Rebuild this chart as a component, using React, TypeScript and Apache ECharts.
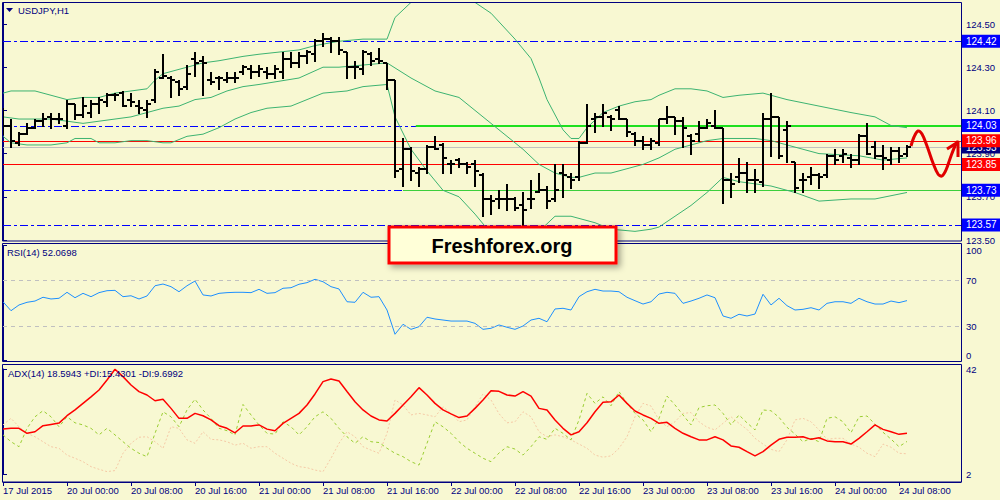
import { useEffect, useRef } from 'react';
import * as echarts from 'echarts';

// ---------- tick labels ----------
const tickBars = [0, 8, 16, 24, 32, 40, 48, 56, 64, 72, 80, 88, 96, 104, 112];
const tickLabels = [
  '17 Jul 2015', '20 Jul 00:00', '20 Jul 08:00', '20 Jul 16:00', '21 Jul 00:00',
  '21 Jul 08:00', '21 Jul 16:00', '22 Jul 00:00', '22 Jul 08:00', '22 Jul 16:00',
  '23 Jul 00:00', '23 Jul 08:00', '23 Jul 16:00', '24 Jul 00:00', '24 Jul 08:00',
];
const priceTicks = [123.5, 123.7, 123.9, 124.1, 124.3, 124.5];
const rsiTicks = [0, 30, 70, 100];
const adxTicks = [2, 42];

// ---------- USDJPY H1 bars ----------
const opens = [
  124.06, 124.03, 123.95, 123.99, 124.02, 124.05, 124.07, 124.06, 124.03, 124.13,
  124.08, 124.09, 124.13, 124.14, 124.17, 124.18, 124.15, 124.12, 124.10, 124.15,
  124.25, 124.25, 124.23, 124.21, 124.34, 124.33, 124.24, 124.25, 124.24, 124.25,
  124.28, 124.29, 124.28, 124.28, 124.27, 124.28, 124.34, 124.32, 124.35, 124.36,
  124.42, 124.43, 124.42, 124.37, 124.30, 124.29, 124.36, 124.34, 124.32, 124.24,
  123.83, 123.92, 123.81, 123.83, 123.93, 123.94, 123.85, 123.87, 123.85, 123.85,
  123.80, 123.69, 123.69, 123.69, 123.69, 123.66, 123.69, 123.72, 123.73, 123.69,
  123.81, 123.79, 123.79, 123.95, 124.06, 124.07, 124.07, 124.10, 124.06, 123.99,
  123.96, 123.94, 123.95, 124.06, 124.07, 124.05, 123.98, 123.99, 124.02, 124.03,
  124.02, 123.78, 123.79, 123.81, 123.78, 123.77, 124.06, 124.07, 124.01, 123.86,
  123.78, 123.79, 123.80, 123.80, 123.89, 123.89, 123.88, 123.87, 123.98, 123.93,
  123.89, 123.87, 123.91, 123.90,
];
const highs = [
  124.11, 124.06, 124.00, 124.04, 124.06, 124.09, 124.09, 124.09, 124.15, 124.13,
  124.16, 124.15, 124.16, 124.18, 124.18, 124.19, 124.18, 124.15, 124.15, 124.29,
  124.36, 124.26, 124.24, 124.31, 124.37, 124.35, 124.28, 124.26, 124.28, 124.28,
  124.31, 124.31, 124.31, 124.30, 124.31, 124.37, 124.37, 124.37, 124.38, 124.43,
  124.46, 124.44, 124.44, 124.37, 124.33, 124.38, 124.37, 124.39, 124.32, 124.24,
  123.97, 123.93, 123.84, 123.94, 123.98, 123.95, 123.87, 123.88, 123.86, 123.87,
  123.81, 123.71, 123.73, 123.76, 123.70, 123.72, 123.78, 123.81, 123.75, 123.85,
  123.85, 123.81, 123.96, 124.13, 124.09, 124.13, 124.08, 124.12, 124.06, 124.00,
  123.98, 123.97, 124.06, 124.12, 124.07, 124.07, 123.99, 124.05, 124.06, 124.10,
  124.02, 123.81, 123.88, 123.86, 123.83, 124.09, 124.18, 124.07, 124.05, 123.86,
  123.81, 123.84, 123.81, 123.90, 123.92, 123.92, 123.90, 123.99, 124.04, 123.96,
  123.94, 123.93, 123.93, 123.94,
];
const lows = [
  123.99, 123.93, 123.94, 123.99, 124.02, 124.03, 124.02, 124.04, 124.02, 124.06,
  124.07, 124.07, 124.09, 124.12, 124.15, 124.12, 124.12, 124.09, 124.07, 124.14,
  124.25, 124.16, 124.17, 124.20, 124.26, 124.17, 124.22, 124.20, 124.23, 124.23,
  124.27, 124.25, 124.26, 124.25, 124.25, 124.25, 124.30, 124.30, 124.32, 124.33,
  124.40, 124.37, 124.36, 124.25, 124.25, 124.27, 124.31, 124.32, 124.20, 123.79,
  123.75, 123.78, 123.75, 123.81, 123.92, 123.81, 123.81, 123.84, 123.81, 123.75,
  123.61, 123.62, 123.65, 123.64, 123.64, 123.56, 123.65, 123.72, 123.65, 123.68,
  123.70, 123.74, 123.78, 123.95, 124.00, 124.03, 124.01, 124.06, 123.98, 123.94,
  123.92, 123.92, 123.94, 124.04, 123.99, 123.93, 123.90, 123.96, 124.02, 124.02,
  123.67, 123.70, 123.77, 123.72, 123.72, 123.75, 123.89, 123.88, 123.86, 123.72,
  123.72, 123.76, 123.74, 123.79, 123.85, 123.86, 123.84, 123.85, 123.90, 123.88,
  123.83, 123.85, 123.86, 123.89,
];
const closes = [
  124.03, 123.96, 123.99, 124.02, 124.05, 124.06, 124.06, 124.06, 124.13, 124.08,
  124.12, 124.13, 124.15, 124.17, 124.17, 124.12, 124.14, 124.11, 124.13, 124.28,
  124.26, 124.24, 124.20, 124.27, 124.32, 124.32, 124.23, 124.25, 124.25, 124.25,
  124.30, 124.28, 124.29, 124.27, 124.29, 124.34, 124.32, 124.35, 124.37, 124.42,
  124.43, 124.42, 124.38, 124.30, 124.30, 124.37, 124.33, 124.33, 124.24, 123.82,
  123.92, 123.82, 123.83, 123.93, 123.92, 123.88, 123.85, 123.85, 123.84, 123.82,
  123.69, 123.68, 123.69, 123.69, 123.65, 123.64, 123.69, 123.73, 123.68, 123.73,
  123.80, 123.78, 123.95, 124.03, 124.07, 124.09, 124.06, 124.06, 124.00, 123.96,
  123.94, 123.96, 124.06, 124.07, 124.05, 124.02, 123.96, 124.02, 124.04, 124.02,
  123.78, 123.76, 123.81, 123.78, 123.78, 124.06, 124.07, 123.89, 124.03, 123.74,
  123.78, 123.80, 123.79, 123.89, 123.87, 123.90, 123.87, 123.98, 123.90, 123.89,
  123.88, 123.91, 123.89, 123.93,
];

// ---------- Bollinger bands (bar index, price) ----------
const bbUpper = [
  [0, 124.18], [1, 124.19], [4, 124.19], [6, 124.17], [8, 124.15], [10, 124.16], [12, 124.16],
  [14, 124.18], [16, 124.19], [18, 124.2], [19, 124.24], [20, 124.27], [23, 124.3], [25, 124.32],
  [27, 124.33], [30, 124.35], [32, 124.36], [37, 124.38], [39, 124.4], [42, 124.42], [45, 124.43],
  [48, 124.43], [49, 124.53], [51, 124.6], [53, 124.62], [55, 124.64], [57, 124.64], [59, 124.6],
  [61, 124.55], [64, 124.43], [66, 124.34], [67, 124.25], [68, 124.15], [70, 124.01], [71, 123.97],
  [72, 123.97], [73, 124.02], [75, 124.09], [77, 124.12], [79, 124.14], [81, 124.15], [82, 124.17],
  [84, 124.2], [86, 124.2], [88, 124.19], [90, 124.16], [92, 124.17], [95, 124.18], [98, 124.15],
  [102, 124.12], [106, 124.09], [109, 124.07], [111, 124.03], [113, 124.02],
];
const bbMiddle = [
  [0, 124.07], [2, 124.06], [4, 124.06], [6, 124.06], [8, 124.05], [10, 124.04], [12, 124.05],
  [14, 124.06], [16, 124.07], [18, 124.09], [20, 124.11], [22, 124.12], [24, 124.15], [26, 124.16],
  [28, 124.19], [30, 124.21], [32, 124.22], [37, 124.25], [40, 124.3], [42, 124.3], [45, 124.31],
  [48, 124.32], [51, 124.25], [54, 124.19], [57, 124.16], [59, 124.1], [61, 124.04], [63, 123.98],
  [65, 123.92], [67, 123.85], [69, 123.81], [71, 123.79], [72, 123.79], [74, 123.81], [76, 123.81],
  [78, 123.83], [80, 123.85], [82, 123.88], [84, 123.92], [86, 123.94], [88, 123.96], [90, 123.97],
  [94, 123.97], [96, 123.96], [98, 123.94], [102, 123.9], [107, 123.89], [110, 123.87], [113, 123.88],
];
const bbLower = [
  [0, 123.98], [1, 123.95], [3, 123.94], [6, 123.94], [8, 123.95], [9, 123.97], [11, 123.97],
  [12, 123.95], [14, 123.95], [16, 123.96], [18, 123.96], [20, 123.95], [21, 123.95], [23, 123.98],
  [25, 123.99], [27, 124.02], [29, 124.06], [31, 124.09], [33, 124.11], [36, 124.12], [40, 124.18],
  [43, 124.19], [45, 124.21], [48, 124.22], [49, 124.07], [51, 123.92], [53, 123.82], [55, 123.73],
  [57, 123.7], [59, 123.62], [61, 123.53], [63, 123.48], [65, 123.48], [67, 123.54], [69, 123.61],
  [71, 123.61], [74, 123.58], [76, 123.55], [79, 123.54], [81, 123.55], [82, 123.56], [84, 123.61],
  [86, 123.66], [88, 123.72], [90, 123.79], [92, 123.77], [96, 123.75], [99, 123.72], [102, 123.68],
  [106, 123.69], [109, 123.69], [113, 123.72],
];

// ---------- indicators ----------
const rsi = [
  51.1, 43.3, 48.3, 50.6, 51.7, 55.0, 53.5, 54.1, 59.3, 54.6,
  58.4, 55.5, 59.0, 60.7, 61.0, 55.5, 56.3, 53.5, 56.1, 65.0,
  66.5, 64.2, 59.8, 65.0, 69.1, 57.0, 56.1, 58.4, 59.0, 59.3,
  59.3, 59.0, 61.9, 58.4, 59.0, 62.8, 63.3, 66.3, 67.7, 70.6,
  68.5, 64.2, 62.2, 51.1, 50.6, 59.3, 55.0, 55.5, 43.9, 22.8,
  31.5, 27.1, 29.4, 37.6, 36.1, 35.2, 34.3, 34.3, 34.3, 32.3,
  27.1, 28.0, 30.9, 28.9, 27.1, 30.0, 35.2, 36.7, 33.7, 44.8,
  45.4, 43.9, 55.5, 59.8, 61.9, 60.4, 60.4, 59.8, 55.0, 52.0,
  49.1, 51.1, 57.8, 59.3, 58.4, 49.7, 51.7, 54.1, 57.0, 54.6,
  38.7, 36.7, 40.2, 38.7, 40.4, 57.6, 48.3, 54.1, 47.7, 43.9,
  44.5, 45.9, 43.9, 49.7, 51.1, 51.1, 49.7, 54.1, 51.1, 49.1,
  49.1, 51.7, 50.3, 52.07,
];
const adx = [
  19.1, 19.4, 19.4, 17.5, 18.1, 20.4, 20.9, 21.4, 24.2, 26.4,
  28.9, 31.4, 34.0, 37.8, 41.9, 39.1, 35.9, 33.4, 32.1, 29.9,
  30.5, 27.0, 23.2, 23.2, 25.1, 24.2, 22.6, 20.4, 19.4, 17.7,
  20.3, 20.3, 20.7, 19.1, 18.5, 21.3, 23.2, 25.1, 28.3, 32.5,
  37.2, 38.2, 37.4, 33.4, 29.5, 26.4, 24.1, 22.6, 22.2, 25.1,
  28.3, 31.4, 34.9, 32.1, 28.9, 26.4, 24.9, 23.5, 24.1, 27.0,
  30.2, 33.7, 33.5, 32.1, 31.7, 33.4, 31.7, 27.0, 26.4, 22.6,
  19.4, 16.9, 18.1, 21.5, 25.7, 29.3, 29.5, 32.1, 28.9, 26.0,
  24.5, 23.2, 21.3, 21.7, 19.4, 17.5, 16.2, 15.0, 15.0, 16.2,
  15.0, 12.7, 12.2, 10.5, 8.9, 10.5, 13.0, 15.2, 16.0, 16.0,
  16.2, 15.2, 15.8, 14.6, 14.3, 14.3, 13.4, 15.6, 18.1, 20.7,
  19.0, 18.1, 17.1, 17.5,
];
const plusDI = [
  16.9, 14.3, 12.4, 19.4, 23.8, 26.1, 23.8, 20.0, 23.8, 21.5,
  20.7, 19.4, 16.9, 19.4, 16.9, 14.3, 11.8, 9.9, 8.6, 17.5,
  25.7, 23.8, 20.0, 26.4, 30.5, 26.4, 23.2, 19.4, 18.5, 16.9,
  28.5, 24.5, 20.7, 17.5, 17.2, 21.9, 20.0, 16.9, 20.0, 23.8,
  25.7, 23.2, 19.4, 16.2, 13.7, 16.2, 14.3, 14.0, 11.8, 9.9,
  8.6, 6.7, 5.4, 13.7, 21.9, 20.0, 17.5, 14.3, 11.8, 9.9,
  8.0, 6.7, 10.0, 12.4, 11.5, 9.2, 12.4, 16.2, 15.2, 19.4,
  17.5, 15.0, 22.6, 32.7, 28.9, 31.4, 28.0, 33.4, 28.9, 25.1,
  22.6, 18.1, 23.2, 31.7, 28.3, 24.5, 20.7, 27.3, 28.0, 28.3,
  25.1, 20.7, 24.5, 21.5, 18.8, 26.4, 26.1, 23.6, 19.8, 17.2,
  14.3, 15.6, 14.3, 23.2, 23.8, 21.9, 17.7, 23.8, 24.1, 21.0,
  17.9, 15.3, 12.4, 14.4,
];
const minusDI = [
  20.7, 23.2, 20.0, 17.5, 16.2, 14.3, 12.4, 11.8, 9.2, 8.0,
  6.7, 4.8, 3.8, 2.9, 3.3, 9.9, 13.7, 16.0, 16.2, 14.3,
  11.8, 20.0, 19.4, 15.0, 13.7, 18.1, 15.2, 15.0, 14.3, 13.0,
  13.7, 11.8, 12.4, 12.4, 9.9, 8.0, 6.1, 4.8, 4.4, 3.5,
  2.9, 8.0, 13.7, 18.1, 16.2, 12.4, 11.1, 9.9, 17.5, 30.2,
  28.3, 24.5, 25.1, 24.5, 23.8, 27.6, 25.1, 21.9, 22.6, 27.6,
  32.5, 30.2, 25.0, 21.5, 21.9, 25.7, 23.8, 18.1, 16.2, 16.9,
  16.2, 15.0, 13.4, 11.8, 9.2, 8.4, 8.9, 11.8, 16.2, 23.8,
  28.9, 27.9, 22.6, 20.0, 21.9, 25.1, 25.4, 21.9, 19.8, 18.8,
  21.3, 23.8, 21.3, 19.0, 15.6, 13.4, 11.4, 10.5, 15.0, 22.6,
  23.2, 21.9, 18.8, 15.2, 15.6, 15.6, 13.4, 12.2, 9.9, 8.6,
  13.4, 12.2, 9.9, 9.7,
];

// ---------- levels ----------
const blueLevels = [124.42, 124.03, 123.73, 123.57];
const redLevels = [123.96, 123.85];
const bidPrice = 123.93;
const greenLevels = [124.03, 123.73];
const greenStartBars = [51.6, 50];
const rsiLevels = [30, 70];

const FONT = '"Liberation Sans", Arial, sans-serif';
const NAVY = '#000080';
const BG = '#F8F8D2';
const XMAX = 119.75;

// line styles used by the level series (by kind)
const LEVEL_STYLES: any[] = [
  { stroke: '#C0C0C0', lineWidth: 1, lineDash: null, half: true },          // 0 bid
  { stroke: '#0000FF', lineWidth: 1, lineDash: [8, 3, 3, 3], half: true },  // 1 blue dash-dot
  { stroke: '#FF0000', lineWidth: 1, lineDash: null, half: true },          // 2 red
  { stroke: '#1EE01E', lineWidth: 2, lineDash: null, half: false },         // 3 green (thick)
  { stroke: '#3CCF3C', lineWidth: 1, lineDash: null, half: true },          // 4 green (thin)
];

function boxLabel(p: number, bg: string) {
  return {
    show: true,
    position: 'end',
    distance: 0,
    formatter: p.toFixed(2),
    color: '#FFFFFF',
    backgroundColor: bg,
    padding: [2, 4, 1, 5],
    fontSize: 10,
    fontFamily: FONT,
    opacity: 1,
  };
}

function buildOption() {
  const bars = opens.map((o, i) => [i, o, highs[i], lows[i], closes[i]]);

  // [startBar, price, kind]
  const levelRows: number[][] = [
    [0, bidPrice, 0],
    ...blueLevels.map((p) => [0, p, 1]),
    ...redLevels.map((p) => [0, p, 2]),
    ...greenLevels.map((p, k) => [greenStartBars[k], p, k === 0 ? 3 : 4]),
  ];

  const labelItems: any[] = [
    { yAxis: bidPrice, label: boxLabel(bidPrice, NAVY) },
    ...blueLevels.map((p) => ({ yAxis: p, label: boxLabel(p, '#0000FF') })),
    ...redLevels.map((p) => ({ yAxis: p, label: boxLabel(p, '#FF0000') })),
  ];

  const axisText = { color: NAVY, fontSize: 9.5, fontFamily: FONT };
  const hiddenX = (gi: number) => ({ type: 'value', gridIndex: gi, min: 0, max: XMAX, show: false, splitLine: { show: false } });
  const bandStyle = { color: '#3CB371', width: 1 };

  return {
    animation: false,
    backgroundColor: BG,
    grid: [
      { left: 3, width: 958, top: 2.4, height: 237.6 },
      { left: 3, width: 958, top: 245.5, height: 115 },
      { left: 3, width: 958, top: 369, height: 105 },
    ],
    xAxis: [
      hiddenX(0),
      hiddenX(1),
      {
        type: 'value', gridIndex: 2, min: 0, max: XMAX, offset: 8,
        splitLine: { show: false },
        axisLine: { show: true, lineStyle: { color: NAVY, width: 1 } },
        axisTick: { show: true, length: 4, customValues: tickBars, lineStyle: { color: NAVY } },
        axisLabel: {
          ...axisText, customValues: tickBars, align: 'left', margin: 3,
          formatter: (v: number) => tickLabels[tickBars.indexOf(v)] ?? '',
        },
      },
    ],
    yAxis: [
      {
        type: 'value', gridIndex: 0, position: 'right', min: 123.5, max: 124.6,
        splitLine: { show: false },
        axisLine: { show: true, lineStyle: { color: NAVY } },
        axisTick: { show: true, length: 4, customValues: priceTicks, lineStyle: { color: NAVY } },
        axisLabel: { ...axisText, customValues: priceTicks, margin: 5, formatter: (v: number) => v.toFixed(2) },
      },
      {
        type: 'value', gridIndex: 1, position: 'right', min: 0, max: 100,
        splitLine: { show: false },
        axisLine: { show: true, lineStyle: { color: NAVY } },
        axisTick: { show: true, length: 4, customValues: rsiTicks, lineStyle: { color: NAVY } },
        axisLabel: {
          ...axisText, customValues: rsiTicks, margin: 5,
          verticalAlignMinLabel: 'bottom', verticalAlignMaxLabel: 'top',
        },
      },
      {
        type: 'value', gridIndex: 2, position: 'right', min: 2, max: 42,
        splitLine: { show: false },
        axisLine: { show: true, lineStyle: { color: NAVY } },
        axisTick: { show: true, length: 4, customValues: adxTicks, lineStyle: { color: NAVY } },
        axisLabel: { ...axisText, customValues: adxTicks, margin: 5 },
      },
    ],
    series: [
      // horizontal levels, drawn crisp through the y scale
      {
        type: 'custom', xAxisIndex: 0, yAxisIndex: 0, data: levelRows, z: 1, clip: true, silent: true,
        encode: { x: 0, y: 1 },
        renderItem: (params: any, api: any) => {
          const s = LEVEL_STYLES[api.value(2)];
          const pt = api.coord([api.value(0), api.value(1)]);
          const right = params.coordSys.x + params.coordSys.width;
          const y = s.half ? Math.round(pt[1]) + 0.5 : Math.round(pt[1]);
          return {
            type: 'line',
            shape: { x1: pt[0], y1: y, x2: right, y2: y },
            style: { stroke: s.stroke, lineWidth: s.lineWidth, lineDash: s.lineDash },
          };
        },
      },
      // price boxes on the right axis for each level
      {
        type: 'line', xAxisIndex: 0, yAxisIndex: 0, data: [], z: 8, silent: true,
        markLine: {
          silent: true, symbol: ['none', 'none'], animation: false,
          lineStyle: { color: 'rgba(0,0,0,0)', width: 0 },
          data: labelItems,
        },
      },
      { type: 'line', xAxisIndex: 0, yAxisIndex: 0, data: bbUpper, showSymbol: false, lineStyle: bandStyle, z: 3, clip: true, silent: true },
      { type: 'line', xAxisIndex: 0, yAxisIndex: 0, data: bbMiddle, showSymbol: false, lineStyle: bandStyle, z: 3, clip: true, silent: true },
      { type: 'line', xAxisIndex: 0, yAxisIndex: 0, data: bbLower, showSymbol: false, lineStyle: bandStyle, z: 3, clip: true, silent: true },
      {
        type: 'custom', xAxisIndex: 0, yAxisIndex: 0, data: bars, z: 5, clip: true, silent: true,
        encode: { x: 0, y: [1, 2, 3, 4] },
        renderItem: (_params: any, api: any) => {
          const i = api.value(0);
          const o = api.coord([i, api.value(1)]);
          const h = api.coord([i, api.value(2)]);
          const l = api.coord([i, api.value(3)]);
          const c = api.coord([i, api.value(4)]);
          const px = Math.round(o[0]);
          const st = { stroke: '#000000', lineWidth: 2 };
          return {
            type: 'group',
            children: [
              { type: 'line', shape: { x1: px, y1: Math.round(h[1]), x2: px, y2: Math.round(l[1]) + 1 }, style: st },
              { type: 'line', shape: { x1: px - 4, y1: Math.round(o[1]), x2: px, y2: Math.round(o[1]) }, style: st },
              { type: 'line', shape: { x1: px, y1: Math.round(c[1]), x2: px + 4, y2: Math.round(c[1]) }, style: st },
            ],
          };
        },
      },
      {
        type: 'line', xAxisIndex: 1, yAxisIndex: 1, data: rsi.map((v, i) => [i, v]), showSymbol: false, silent: true,
        lineStyle: { color: '#1E90FF', width: 1 },
        markLine: {
          silent: true, symbol: ['none', 'none'], label: { show: false },
          lineStyle: { color: '#C0C0C0', type: [4, 4], width: 1 },
          data: rsiLevels.map((v) => ({ yAxis: v })),
        },
      },
      {
        type: 'line', xAxisIndex: 2, yAxisIndex: 2, data: minusDI.map((v, i) => [i, v]), showSymbol: false, silent: true,
        lineStyle: { color: '#F5C9A6', width: 1, type: [2, 2] }, z: 2,
      },
      {
        type: 'line', xAxisIndex: 2, yAxisIndex: 2, data: plusDI.map((v, i) => [i, v]), showSymbol: false, silent: true,
        lineStyle: { color: '#9ACD32', width: 1, type: [3, 3] }, z: 3,
      },
      {
        type: 'line', xAxisIndex: 2, yAxisIndex: 2, data: adx.map((v, i) => [i, v]), showSymbol: false, silent: true,
        lineStyle: { color: '#FF0000', width: 1.5 }, z: 4,
      },
    ],
    graphic: [
      { type: 'rect', z: 20, silent: true, shape: { x: 2.5, y: 2.5, width: 959, height: 238.5 }, style: { fill: 'none', stroke: NAVY, lineWidth: 1 } },
      { type: 'rect', z: 20, silent: true, shape: { x: 2.5, y: 243.5, width: 959, height: 118 }, style: { fill: 'none', stroke: NAVY, lineWidth: 1 } },
      { type: 'rect', z: 20, silent: true, shape: { x: 2.5, y: 364.5, width: 959, height: 117.5 }, style: { fill: 'none', stroke: NAVY, lineWidth: 1 } },
      { type: 'polygon', z: 20, silent: true, shape: { points: [[6, 8], [13, 8], [9.5, 12]] }, style: { fill: NAVY } },
      { type: 'text', z: 20, silent: true, style: { text: 'USDJPY,H1', x: 18, y: 10.5, verticalAlign: 'middle', fill: NAVY, font: `9.5px ${FONT}` } },
      { type: 'text', z: 20, silent: true, style: { text: 'RSI(14) 52.0698', x: 7, y: 252.5, verticalAlign: 'middle', fill: NAVY, font: `9.5px ${FONT}` } },
      { type: 'text', z: 20, silent: true, style: { text: 'ADX(14) 18.5943 +DI:15.4301 -DI:9.6992', x: 8, y: 373.5, verticalAlign: 'middle', fill: NAVY, font: `9.5px ${FONT}` } },
      {
        type: 'rect', z: 60, silent: true,
        shape: { x: 389, y: 227, width: 227, height: 36 },
        style: { fill: '#FFFFD8', stroke: '#FF0000', lineWidth: 3, shadowBlur: 6, shadowOffsetX: 3, shadowOffsetY: 3, shadowColor: 'rgba(0,0,0,0.35)' },
      },
      {
        type: 'text', z: 61, silent: true,
        style: { text: 'Freshforex.org', x: 502, y: 245.5, align: 'center', verticalAlign: 'middle', fill: '#000000', font: `bold 20px ${FONT}` },
      },
      {
        type: 'polyline', z: 50, silent: true,
        shape: {
          points: [[911, 146], [914, 137], [918, 131], [922, 134], [927, 146], [933, 163], [938, 174], [942, 176], [946, 170], [951, 156], [955, 146], [958, 141]],
          smooth: 0.35,
        },
        style: { stroke: '#E00000', lineWidth: 3, fill: 'none' },
      },
      {
        type: 'polyline', z: 50, silent: true,
        shape: { points: [[947, 149], [958, 142], [958, 157]] },
        style: { stroke: '#E00000', lineWidth: 3, fill: 'none', lineJoin: 'round' },
      },
    ],
  };
}

export default function App() {
  const ref = useRef<HTMLDivElement>(null);
  useEffect(() => {
    if (!ref.current) return;
    const chart = echarts.init(ref.current, null, { renderer: 'svg' });
    chart.setOption(buildOption() as any);
    return () => chart.dispose();
  }, []);
  return (
    <div
      ref={ref}
      style={{ position: 'fixed', left: 0, top: 0, width: 1000, height: 500, background: BG }}
    />
  );
}
